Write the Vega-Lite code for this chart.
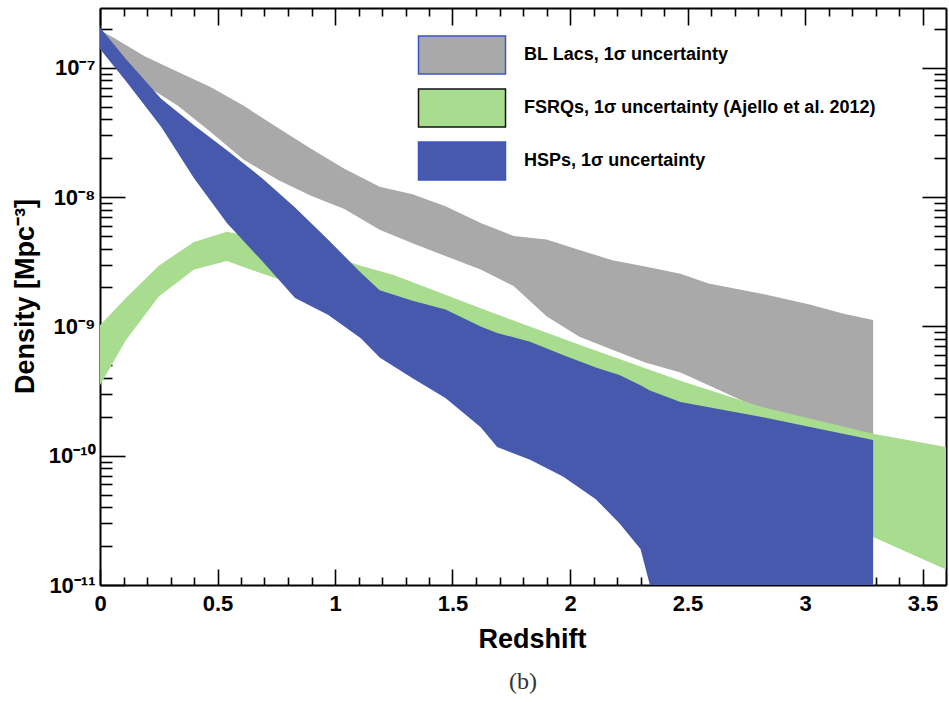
{
  "$schema": "https://vega.github.io/schema/vega-lite/v6.json",
  "width": 846,
  "height": 577,
  "autosize": {"type": "none"},
  "padding": {"left": 100, "top": 8, "right": 3, "bottom": 117},
  "background": "white",
  "config": {"view": {"stroke": null}, "font": "Liberation Sans"},
  "title": {"text": "(b)", "orient": "bottom", "anchor": "middle", "font": "Liberation Serif", "fontSize": 24, "fontWeight": "normal", "color": "#333333", "offset": 18},
  "datasets": {
    "bllacs": [
      {"series": "BL Lacs, 1σ uncertainty", "z": 0.00, "hi": 1.95e-7, "lo": 1.60e-7},
      {"series": "BL Lacs, 1σ uncertainty", "z": 0.06, "hi": 1.70e-7, "lo": 1.10e-7},
      {"series": "BL Lacs, 1σ uncertainty", "z": 0.19, "hi": 1.23e-7, "lo": 7.4e-8},
      {"series": "BL Lacs, 1σ uncertainty", "z": 0.33, "hi": 9.3e-8, "lo": 5.1e-8},
      {"series": "BL Lacs, 1σ uncertainty", "z": 0.47, "hi": 7.1e-8, "lo": 3.2e-8},
      {"series": "BL Lacs, 1σ uncertainty", "z": 0.61, "hi": 5.1e-8, "lo": 1.95e-8},
      {"series": "BL Lacs, 1σ uncertainty", "z": 0.76, "hi": 3.4e-8, "lo": 1.35e-8},
      {"series": "BL Lacs, 1σ uncertainty", "z": 0.90, "hi": 2.35e-8, "lo": 1.02e-8},
      {"series": "BL Lacs, 1σ uncertainty", "z": 1.04, "hi": 1.66e-8, "lo": 8.1e-9},
      {"series": "BL Lacs, 1σ uncertainty", "z": 1.19, "hi": 1.20e-8, "lo": 5.6e-9},
      {"series": "BL Lacs, 1σ uncertainty", "z": 1.33, "hi": 1.05e-8, "lo": 4.4e-9},
      {"series": "BL Lacs, 1σ uncertainty", "z": 1.47, "hi": 8.5e-9, "lo": 3.5e-9},
      {"series": "BL Lacs, 1σ uncertainty", "z": 1.62, "hi": 6.3e-9, "lo": 2.75e-9},
      {"series": "BL Lacs, 1σ uncertainty", "z": 1.76, "hi": 5.0e-9, "lo": 2.05e-9},
      {"series": "BL Lacs, 1σ uncertainty", "z": 1.90, "hi": 4.7e-9, "lo": 1.2e-9},
      {"series": "BL Lacs, 1σ uncertainty", "z": 2.04, "hi": 3.9e-9, "lo": 8.3e-10},
      {"series": "BL Lacs, 1σ uncertainty", "z": 2.18, "hi": 3.25e-9, "lo": 6.6e-10},
      {"series": "BL Lacs, 1σ uncertainty", "z": 2.32, "hi": 2.9e-9, "lo": 5.25e-10},
      {"series": "BL Lacs, 1σ uncertainty", "z": 2.47, "hi": 2.55e-9, "lo": 4.4e-10},
      {"series": "BL Lacs, 1σ uncertainty", "z": 2.59, "hi": 2.15e-9, "lo": 3.5e-10},
      {"series": "BL Lacs, 1σ uncertainty", "z": 2.81, "hi": 1.8e-9, "lo": 2.3e-10},
      {"series": "BL Lacs, 1σ uncertainty", "z": 3.02, "hi": 1.48e-9, "lo": 1.7e-10},
      {"series": "BL Lacs, 1σ uncertainty", "z": 3.16, "hi": 1.26e-9, "lo": 1.4e-10},
      {"series": "BL Lacs, 1σ uncertainty", "z": 3.29, "hi": 1.12e-9, "lo": 1.3e-10}
    ],
    "fsrqs": [
      {"series": "FSRQs, 1σ uncertainty (Ajello et al. 2012)", "z": 0.00, "hi": 1.02e-9, "lo": 3.5e-10},
      {"series": "FSRQs, 1σ uncertainty (Ajello et al. 2012)", "z": 0.11, "hi": 1.66e-9, "lo": 7.8e-10},
      {"series": "FSRQs, 1σ uncertainty (Ajello et al. 2012)", "z": 0.25, "hi": 2.95e-9, "lo": 1.7e-9},
      {"series": "FSRQs, 1σ uncertainty (Ajello et al. 2012)", "z": 0.40, "hi": 4.5e-9, "lo": 2.75e-9},
      {"series": "FSRQs, 1σ uncertainty (Ajello et al. 2012)", "z": 0.54, "hi": 5.4e-9, "lo": 3.2e-9},
      {"series": "FSRQs, 1σ uncertainty (Ajello et al. 2012)", "z": 0.68, "hi": 4.8e-9, "lo": 2.6e-9},
      {"series": "FSRQs, 1σ uncertainty (Ajello et al. 2012)", "z": 0.83, "hi": 4.0e-9, "lo": 2.1e-9},
      {"series": "FSRQs, 1σ uncertainty (Ajello et al. 2012)", "z": 0.97, "hi": 3.55e-9, "lo": 1.75e-9},
      {"series": "FSRQs, 1σ uncertainty (Ajello et al. 2012)", "z": 1.11, "hi": 2.95e-9, "lo": 1.45e-9},
      {"series": "FSRQs, 1σ uncertainty (Ajello et al. 2012)", "z": 1.25, "hi": 2.5e-9, "lo": 1.2e-9},
      {"series": "FSRQs, 1σ uncertainty (Ajello et al. 2012)", "z": 1.62, "hi": 1.38e-9, "lo": 5.6e-10},
      {"series": "FSRQs, 1σ uncertainty (Ajello et al. 2012)", "z": 2.04, "hi": 7.2e-10, "lo": 2.5e-10},
      {"series": "FSRQs, 1σ uncertainty (Ajello et al. 2012)", "z": 2.47, "hi": 3.8e-10, "lo": 8.9e-11},
      {"series": "FSRQs, 1σ uncertainty (Ajello et al. 2012)", "z": 2.81, "hi": 2.4e-10, "lo": 4.5e-11},
      {"series": "FSRQs, 1σ uncertainty (Ajello et al. 2012)", "z": 3.29, "hi": 1.48e-10, "lo": 2.35e-11},
      {"series": "FSRQs, 1σ uncertainty (Ajello et al. 2012)", "z": 3.60, "hi": 1.17e-10, "lo": 1.32e-11}
    ],
    "hsps": [
      {"series": "HSPs, 1σ uncertainty", "z": 0.00, "hi": 2.05e-7, "lo": 1.4e-7},
      {"series": "HSPs, 1σ uncertainty", "z": 0.11, "hi": 1.17e-7, "lo": 7.9e-8},
      {"series": "HSPs, 1σ uncertainty", "z": 0.26, "hi": 5.75e-8, "lo": 3.5e-8},
      {"series": "HSPs, 1σ uncertainty", "z": 0.40, "hi": 3.6e-8, "lo": 1.4e-8},
      {"series": "HSPs, 1σ uncertainty", "z": 0.54, "hi": 2.3e-8, "lo": 6.3e-9},
      {"series": "HSPs, 1σ uncertainty", "z": 0.69, "hi": 1.4e-8, "lo": 3.2e-9},
      {"series": "HSPs, 1σ uncertainty", "z": 0.83, "hi": 8.3e-9, "lo": 1.66e-9},
      {"series": "HSPs, 1σ uncertainty", "z": 0.97, "hi": 4.7e-9, "lo": 1.23e-9},
      {"series": "HSPs, 1σ uncertainty", "z": 1.11, "hi": 2.6e-9, "lo": 8.1e-10},
      {"series": "HSPs, 1σ uncertainty", "z": 1.19, "hi": 1.9e-9, "lo": 5.75e-10},
      {"series": "HSPs, 1σ uncertainty", "z": 1.33, "hi": 1.58e-9, "lo": 3.98e-10},
      {"series": "HSPs, 1σ uncertainty", "z": 1.47, "hi": 1.35e-9, "lo": 2.8e-10},
      {"series": "HSPs, 1σ uncertainty", "z": 1.62, "hi": 1.0e-9, "lo": 1.66e-10},
      {"series": "HSPs, 1σ uncertainty", "z": 1.69, "hi": 8.9e-10, "lo": 1.17e-10},
      {"series": "HSPs, 1σ uncertainty", "z": 1.83, "hi": 7.6e-10, "lo": 9.3e-11},
      {"series": "HSPs, 1σ uncertainty", "z": 1.97, "hi": 6.0e-10, "lo": 6.9e-11},
      {"series": "HSPs, 1σ uncertainty", "z": 2.11, "hi": 4.8e-10, "lo": 4.6e-11},
      {"series": "HSPs, 1σ uncertainty", "z": 2.21, "hi": 4.2e-10, "lo": 3.0e-11},
      {"series": "HSPs, 1σ uncertainty", "z": 2.30, "hi": 3.5e-10, "lo": 1.9e-11},
      {"series": "HSPs, 1σ uncertainty", "z": 2.34, "hi": 3.2e-10, "lo": 1.0e-11},
      {"series": "HSPs, 1σ uncertainty", "z": 2.47, "hi": 2.6e-10, "lo": 1.0e-11},
      {"series": "HSPs, 1σ uncertainty", "z": 2.81, "hi": 2.0e-10, "lo": 1.0e-11},
      {"series": "HSPs, 1σ uncertainty", "z": 3.29, "hi": 1.32e-10, "lo": 1.0e-11}
    ]
  },
  "layer": [
    {
      "data": {"name": "bllacs"},
      "mark": {"type": "area", "interpolate": "linear", "opacity": 1},
      "encoding": {
        "x": {
          "field": "z", "type": "quantitative",
          "scale": {"domain": [0, 3.6], "nice": false, "zero": false},
          "axis": {
            "orient": "bottom",
            "values": [0, 0.1, 0.2, 0.3, 0.4, 0.5, 0.6, 0.7, 0.8, 0.9, 1, 1.1, 1.2, 1.3, 1.4, 1.5, 1.6, 1.7, 1.8, 1.9, 2, 2.1, 2.2, 2.3, 2.4, 2.5, 2.6, 2.7, 2.8, 2.9, 3, 3.1, 3.2, 3.3, 3.4, 3.5],
            "tickSize": {"condition": {"test": "abs(datum.value * 2 - round(datum.value * 2)) < 0.001", "value": -16}, "value": -8},
            "labelExpr": "abs(datum.value * 2 - round(datum.value * 2)) < 0.001 ? toString(datum.value) : ''",
            "grid": false, "domainColor": "black", "domainWidth": 2, "tickColor": "black", "tickWidth": 1.6,
            "labelFont": "Liberation Sans", "labelFontSize": 22, "labelFontWeight": "bold", "labelColor": "black",
            "labelPadding": 24, "labelOverlap": false, "labelFlush": false,
            "title": "Redshift", "titleFont": "Liberation Sans", "titleFontSize": 27, "titleFontWeight": "bold", "titleColor": "black",
            "titleX": 432, "titleY": 62, "titleBaseline": "alphabetic", "titleAlign": "center"
          }
        },
        "y": {
          "field": "hi", "type": "quantitative",
          "scale": {"type": "log", "domain": [1e-11, 2.9e-7], "nice": false},
          "axis": {
            "orient": "left",
            "values": [1e-11, 2e-11, 3e-11, 4e-11, 5e-11, 6e-11, 7e-11, 8e-11, 9e-11, 1e-10, 2e-10, 3e-10, 4e-10, 5e-10, 6e-10, 7e-10, 8e-10, 9e-10, 1e-9, 2e-9, 3e-9, 4e-9, 5e-9, 6e-9, 7e-9, 8e-9, 9e-9, 1e-8, 2e-8, 3e-8, 4e-8, 5e-8, 6e-8, 7e-8, 8e-8, 9e-8, 1e-7, 2e-7],
            "tickSize": {"condition": {"test": "abs(log(datum.value) / LN10 - round(log(datum.value) / LN10)) < 0.001", "value": -25}, "value": -12},
            "labelExpr": "abs(log(datum.value) / LN10 - round(log(datum.value) / LN10)) < 0.001 ? '10' + ['⁻¹¹', '⁻¹⁰', '⁻⁹', '⁻⁸', '⁻⁷'][round(log(datum.value) / LN10) + 11] : ''",
            "grid": false, "domainColor": "black", "domainWidth": 2, "tickColor": "black", "tickWidth": 1.6,
            "labelFont": "Liberation Sans", "labelFontSize": 22, "labelFontWeight": "bold", "labelColor": "black",
            "labelPadding": 30, "labelOverlap": false, "labelFlush": false,
            "title": "Density [Mpc⁻³]", "titleFont": "Liberation Sans", "titleFontSize": 27, "titleFontWeight": "bold", "titleColor": "black",
            "titleX": -75, "titleY": 288, "titleAngle": 270, "titleAlign": "center", "titleBaseline": "middle"
          }
        },
        "y2": {"field": "lo"},
        "color": {
          "field": "series", "type": "nominal",
          "scale": {
            "domain": ["BL Lacs, 1σ uncertainty", "FSRQs, 1σ uncertainty (Ajello et al. 2012)", "HSPs, 1σ uncertainty"],
            "range": ["#a9a9a9", "#a8dc8f", "#4759ad"]
          },
          "legend": {
            "orient": "none", "legendX": 342, "legendY": 27, "title": null,
            "symbolType": "M-2.29,-1H2.29V1H-2.29Z", "symbolSize": 1444, "symbolOpacity": 1,
            "symbolStrokeWidth": 1.5,
            "labelFont": "Liberation Sans", "labelFontSize": 18, "labelFontWeight": "bold", "labelColor": "black",
            "labelOffset": 42, "labelLimit": 600, "rowPadding": 9,
            "encode": {
              "symbols": {
                "update": {
                  "stroke": {"signal": "datum.label === 'FSRQs, 1σ uncertainty (Ajello et al. 2012)' ? '#111111' : '#3d55c4'"},
                  "strokeWidth": {"value": 1.5}
                }
              }
            }
          }
        }
      }
    },
    {
      "data": {"name": "fsrqs"},
      "mark": {"type": "area", "interpolate": "linear", "opacity": 1},
      "encoding": {
        "x": {
          "field": "z", "type": "quantitative",
          "axis": {
            "orient": "top",
            "values": [0, 0.1, 0.2, 0.3, 0.4, 0.5, 0.6, 0.7, 0.8, 0.9, 1, 1.1, 1.2, 1.3, 1.4, 1.5, 1.6, 1.7, 1.8, 1.9, 2, 2.1, 2.2, 2.3, 2.4, 2.5, 2.6, 2.7, 2.8, 2.9, 3, 3.1, 3.2, 3.3, 3.4, 3.5],
            "tickSize": {"condition": {"test": "abs(datum.value * 2 - round(datum.value * 2)) < 0.001", "value": -17}, "value": -8},
            "labels": false, "grid": false, "title": null,
            "domainColor": "black", "domainWidth": 2, "tickColor": "black", "tickWidth": 1.6
          }
        },
        "y": {
          "field": "hi", "type": "quantitative",
          "axis": {
            "orient": "right",
            "values": [1e-11, 2e-11, 3e-11, 4e-11, 5e-11, 6e-11, 7e-11, 8e-11, 9e-11, 1e-10, 2e-10, 3e-10, 4e-10, 5e-10, 6e-10, 7e-10, 8e-10, 9e-10, 1e-9, 2e-9, 3e-9, 4e-9, 5e-9, 6e-9, 7e-9, 8e-9, 9e-9, 1e-8, 2e-8, 3e-8, 4e-8, 5e-8, 6e-8, 7e-8, 8e-8, 9e-8, 1e-7, 2e-7],
            "tickSize": {"condition": {"test": "abs(log(datum.value) / LN10 - round(log(datum.value) / LN10)) < 0.001", "value": -24}, "value": -12},
            "labels": false, "grid": false, "title": null,
            "domainColor": "black", "domainWidth": 2, "tickColor": "black", "tickWidth": 1.6
          }
        },
        "y2": {"field": "lo"},
        "color": {"field": "series", "type": "nominal"}
      }
    },
    {
      "data": {"name": "hsps"},
      "mark": {"type": "area", "interpolate": "linear", "opacity": 1},
      "encoding": {
        "x": {"field": "z", "type": "quantitative", "axis": null},
        "y": {"field": "hi", "type": "quantitative", "axis": null},
        "y2": {"field": "lo"},
        "color": {"field": "series", "type": "nominal"}
      }
    }
  ],
  "resolve": {"axis": {"x": "independent", "y": "independent"}}
}
